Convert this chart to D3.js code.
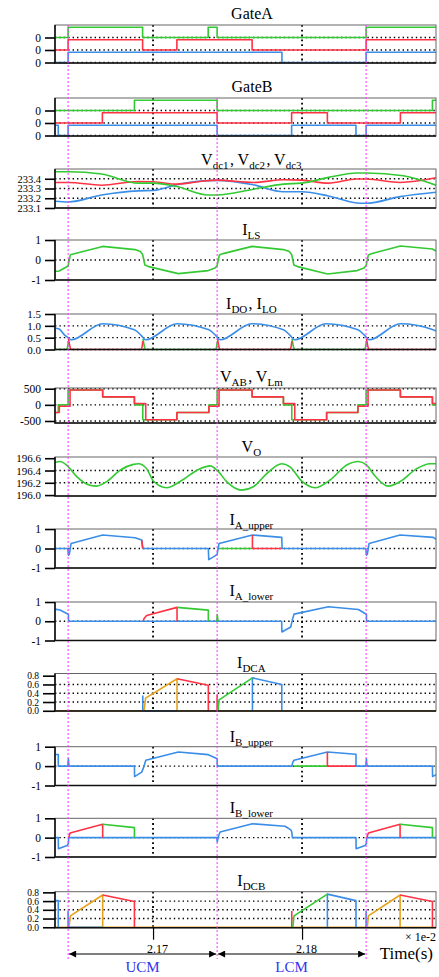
<!DOCTYPE html>
<html>
<head>
<meta charset="utf-8">
<script src="https://cdn.jsdelivr.net/npm/d3@7"></script>
<style>
    body { margin: 0; background: #ffffff; }
    svg { display: block; font-family: "Liberation Serif", "Times New Roman", serif; }
</style>
</head>
<body>
<div id="chart"></div>
<script>
// time in microseconds (2.17e-2 s = 21700 us)
const T0 = 21634.2;
const T1 = 21889.9;
const xTicks = [21700, 21800];
const modeMarks = [21643, 21743, 21843];
const modeLabels = ['UCM', 'LCM'];
const gateHigh = 0.82;

// Gate signals: [time, level] step-after
const gateA_green = [[21634.2, 0], [21643, 1], [21693, 0], [21737, 1], [21743, 0], [21843, 1]];
const gateA_red = [[21634.2, 0], [21643, 1], [21693, 0], [21716, 1], [21766.5, 0], [21843, 1]];
const gateA_blue = [[21634.2, 0], [21643, 1], [21786.5, 0], [21843, 1]];
const gateB_green = [[21634.2, 0], [21687.5, 1], [21743, 0], [21887.5, 1]];
const gateB_red = [[21634.2, 0], [21666, 1], [21743, 0], [21793, 1], [21817, 0], [21866, 1]];
const gateB_blue = [[21634.2, 1], [21636.4, 0], [21643, 1], [21743, 0], [21793, 1], [21836.2, 0], [21843, 1]];

// DC capacitor voltages
const vdc1 = [[21634.2, 233.472], [21643.2, 233.472], [21665.5, 233.448], [21690.2, 233.355], [21700.2, 233.355], [21715.9, 233.32], [21737.1, 233.234], [21743, 233.234], [21767.3, 233.293], [21787.5, 233.345], [21799.8, 233.355], [21817.7, 233.414], [21836.7, 233.459], [21843.2, 233.459], [21868, 233.431], [21889.9, 233.334]];
const vdc2 = [[21634.2, 233.362], [21643.2, 233.362], [21665.5, 233.334], [21690.2, 233.372], [21700.2, 233.369], [21715.9, 233.345], [21731.5, 233.372], [21743, 233.386], [21767.3, 233.362], [21787.5, 233.39], [21799.8, 233.386], [21817.7, 233.355], [21836.7, 233.397], [21843.2, 233.397], [21865.8, 233.362], [21889.9, 233.41]];
const vdc3 = [[21634.2, 233.169], [21643.2, 233.162], [21665.5, 233.234], [21690.2, 233.276], [21700.2, 233.28], [21715.9, 233.338], [21731.5, 233.376], [21743, 233.383], [21767.3, 233.338], [21787.5, 233.266], [21799.8, 233.266], [21817.7, 233.224], [21836.7, 233.152], [21843.2, 233.148], [21865.8, 233.217], [21889.9, 233.262]];

// I_LS
const ils = [[21634.2, -0.57], [21637, -0.55], [21641.5, -0.36], [21643, -0.3], [21644.5, 0.26], [21666.2, 0.68], [21687.9, 0.52], [21691.5, 0.42], [21693, 0.28], [21694.5, -0.25], [21697, -0.33], [21717, -0.68], [21737.1, -0.53], [21741.6, -0.4], [21743, -0.28], [21744.5, 0.25], [21747, 0.32], [21766.5, 0.68], [21787.5, 0.52], [21791.5, 0.42], [21793, 0.28], [21794.5, -0.25], [21797, -0.33], [21817.2, -0.7], [21837, -0.53], [21841.6, -0.4], [21843, -0.28], [21844.5, 0.25], [21847, 0.32], [21866, 0.7], [21887.5, 0.55], [21889.9, 0.45]];

// I_DO, I_LO
const ilo = [[21634.2, 0.9], [21637, 0.87], [21640.5, 0.62], [21643, 0.5], [21645, 0.41], [21666.2, 1.09], [21687.5, 0.83], [21692, 0.6], [21695, 0.41], [21716, 1.09], [21737.5, 0.83], [21742, 0.6], [21745, 0.41], [21766.2, 1.09], [21787.5, 0.83], [21792, 0.6], [21795, 0.41], [21816, 1.09], [21837.5, 0.83], [21842, 0.6], [21845, 0.41], [21866, 1.09], [21887.5, 0.85], [21889.9, 0.78]];
const ido_red = [[21643.3, 0.45], [21644.3, 0.1], [21645, 0], [21692, 0], [21692.6, 0.1], [21693.2, 0.35], null,
    [21743.3, 0.45], [21744.3, 0.1], [21745, 0], [21792, 0], [21792.6, 0.1], [21793.2, 0.35], null,
    [21843.3, 0.45], [21844.3, 0.1], [21845, 0], [21889.9, 0]];
const ido_green = [[21634.2, 0], [21642, 0], [21642.6, 0.1], [21643.2, 0.35], null,
    [21693.3, 0.45], [21694.3, 0.1], [21695, 0], [21742, 0], [21742.6, 0.1], [21743.2, 0.35], null,
    [21793.3, 0.45], [21794.3, 0.1], [21795, 0], [21842, 0], [21842.6, 0.1], [21843.2, 0.35]];

// V_AB (green), V_Lm (red): step-after
const vab = [[21634.2, -237], [21636.4, 0], [21643, 460], [21666.2, 247], [21687.5, 0], [21693.1, -460], [21716, -237], [21737.5, 0], [21743, 460], [21766.5, 247], [21787.5, 0], [21793.1, -460], [21816.5, -237], [21837.5, 0], [21843, 460], [21866, 247], [21887.5, 0]];
const vlm = [[21634.2, -237], [21637.1, -41], [21644.3, 460], [21666.2, 247], [21687.5, 41], [21695.1, -460], [21716, -237], [21737.5, -41], [21744.3, 460], [21766.5, 247], [21787.5, 41], [21795.1, -460], [21816.5, -237], [21837.5, -41], [21844.3, 460], [21866, 247], [21887.5, 41]];

// V_O
const vo = [[21634.2, 196.53], [21637.6, 196.546], [21643.2, 196.46], [21648.8, 196.3], [21657.7, 196.16], [21662.2, 196.146], [21668.9, 196.22], [21677.9, 196.405], [21686.8, 196.5], [21690.2, 196.51], [21695.7, 196.43], [21700.2, 196.23], [21709.2, 196.12], [21718.1, 196.22], [21731.5, 196.43], [21738.3, 196.475], [21743, 196.405], [21749.4, 196.22], [21759.5, 196.08], [21767.3, 196.135], [21776.3, 196.35], [21786.4, 196.51], [21791.9, 196.46], [21799.8, 196.227], [21808.7, 196.12], [21818.8, 196.245], [21830, 196.49], [21837.8, 196.546], [21843.2, 196.49], [21849, 196.31], [21857.9, 196.146], [21865.8, 196.22], [21877, 196.43], [21885.9, 196.51], [21889.9, 196.51]];

// I_A_upper
const iau_blue = [[21634.2, 0], [21642.8, 0], [21643.2, -0.34], [21643.8, -0.3], [21645, 0.26], [21666.2, 0.69], [21687.9, 0.55], [21692.4, 0.43], [21693.1, 0], [21737.1, 0], [21737.4, -0.57], [21741.6, -0.38], [21743, -0.3], [21744.3, 0.26], [21766.7, 0.69], [21786.4, 0.57], [21786.6, 0], [21842.8, 0], [21843.2, -0.34], [21843.8, -0.3], [21845, 0.26], [21865.8, 0.69], [21888.1, 0.57], [21889.9, 0.47]];
const iau_green = [[21744.3, 0], [21766.7, 0]];
const iau_red = [[21692.4, 0.43], [21693.1, 0], null, [21766.7, 0.69], [21766.7, 0], [21786.4, 0]];

// I_A_lower
const ial_blue = [[21634.2, 0.63], [21637.6, 0.58], [21642.1, 0.4], [21643.2, 0.35], [21643.3, 0], [21786.3, 0], [21786.5, -0.56], [21792.4, -0.3], [21793.6, 0.1], [21794.6, 0.37], [21817.7, 0.75], [21837.8, 0.61], [21842.3, 0.4], [21843.2, 0.35], [21843.3, 0], [21889.9, 0]];
const ial_red = [[21693.3, 0], [21694, 0.14], [21695.7, 0.3], [21716.1, 0.72], [21716.1, 0]];
const ial_green = [[21716.1, 0.72], [21737.1, 0.58], [21737.1, 0], null, [21742.8, 0], [21743.1, 0.35], [21743.6, 0]];

// I_DCA
const idca_orange = [[21634.2, 0], [21889.9, 0], null, [21694, 0], [21695, 0.29], [21716.1, 0.73], [21716.1, 0]];
const idca_blue = [[21693.1, 0], [21693.1, 0.35], null, [21694, 0], [21716, 0], null, [21766.7, 0], [21766.7, 0.75], [21786.4, 0.6], [21786.4, 0]];
const idca_red = [[21716.1, 0.73], [21737.1, 0.58], [21737.1, 0], null, [21743, 0], [21743, 0.37]];
const idca_green = [[21743.6, 0], [21744.3, 0.25], [21766.7, 0.75]];

// I_B_upper
const ibu_blue = [[21634.2, 0.6], [21636.4, 0.6], [21636.4, 0], [21642.8, 0], [21643.2, 0.38], [21643.6, 0], [21687.5, 0], [21687.6, -0.54], [21692.4, -0.31], [21694, 0], [21695.1, 0.3], [21717, 0.73], [21737.1, 0.59], [21741.6, 0.43], [21743, 0.38], [21743.1, 0], [21793.1, 0], [21793.8, 0.2], [21794.6, 0.3], [21817, 0.73], [21836.2, 0.61], [21836.2, 0], [21842.8, 0], [21843.2, 0.38], [21843.6, 0], [21887.5, 0], [21887.6, -0.54], [21889.9, -0.44]];
const ibu_green = [[21794.6, 0], [21817, 0]];
const ibu_red = [[21817, 0.73], [21817, 0], [21836.2, 0]];

// I_B_lower
const ibl_blue = [[21634.2, 0], [21636.4, 0], [21636.5, -0.57], [21642.3, -0.4], [21643.2, -0.3], [21643.4, 0], [21742.8, 0], [21743.1, -0.22], [21744, 0.1], [21745, 0.29], [21766.7, 0.72], [21788.6, 0.59], [21792.5, 0.4], [21793.1, 0.29], [21793.5, 0], [21836.2, 0], [21836.3, -0.57], [21842.3, -0.4], [21843.2, -0.3], [21843.4, 0], [21889.9, 0]];
const ibl_red = [[21643.4, 0], [21644.3, 0.24], [21666.2, 0.69], [21666.2, 0], null, [21843.4, 0], [21844.5, 0.24], [21865.8, 0.69], [21865.8, 0]];
const ibl_green = [[21666.2, 0.69], [21687.5, 0.52], [21687.5, 0], null, [21865.8, 0.69], [21887.5, 0.52], [21887.5, 0]];

// I_DCB
const idcb_orange = [[21634.2, 0], [21889.9, 0], null, [21643.6, 0], [21644.5, 0.26], [21666.2, 0.74], [21666.2, 0], null, [21843.8, 0], [21844.5, 0.26], [21865.8, 0.74], [21865.8, 0]];
const idcb_blue = [[21634.2, 0.61], [21636.4, 0.61], [21636.4, 0], null, [21643, 0], [21643, 0.37], null, [21643.5, 0], [21666.2, 0], null, [21817, 0], [21817, 0.76], [21836.2, 0.61], [21836.2, 0], null, [21843, 0], [21843, 0.37]];
const idcb_red = [[21666.2, 0.74], [21687.5, 0.59], [21687.5, 0], null, [21793.1, 0], [21793.1, 0.37], null, [21865.8, 0.74], [21887.5, 0.59], [21887.5, 0]];
const idcb_green = [[21793.8, 0], [21794.6, 0.26], [21817, 0.76]];

const C = { green: '#33c933', red: '#ff3344', blue: '#3a8ee8', orange: '#e6a21a' };

function gateRow(data, row) {
    return data.map((d) => [d[0], d[1] * gateHigh + row]);
}

const f1 = d3.format('.1f');
const fInt = (d) => String(d);

const panels = [
    { title: [['GateA', '']], titleY: 19, top: 25, bottom: 63, domain: [-0.04, 3], ticks: [0, 1, 2], fmt: () => '0', grid: [0, 1, 2], curve: d3.curveStepAfter, fs: 11.5,
      series: [[gateRow(gateA_blue, 0), C.blue], [gateRow(gateA_red, 1), C.red], [gateRow(gateA_green, 2), C.green]] },
    { title: [['GateB', '']], titleY: 92, top: 98, bottom: 136, domain: [-0.04, 3], ticks: [0, 1, 2], fmt: () => '0', grid: [0, 1, 2], curve: d3.curveStepAfter, fs: 11.5,
      series: [[gateRow(gateB_blue, 0), C.blue], [gateRow(gateB_red, 1), C.red], [gateRow(gateB_green, 2), C.green]] },
    { title: [['V', 'dc1'], [', V', 'dc2'], [', V', 'dc3']], titleY: 165, top: 169, bottom: 208, domain: [233.1, 233.5], ticks: [233.1, 233.2, 233.3, 233.4], fmt: f1, grid: [233.2, 233.3, 233.4], curve: d3.curveMonotoneX, fs: 10.5,
      series: [[vdc3, C.blue], [vdc2, C.red], [vdc1, C.green]] },
    { title: [['I', 'LS']], titleY: 235, top: 240, bottom: 280, domain: [-1, 1], ticks: [-1, 0, 1], fmt: fInt, grid: [0], curve: d3.curveLinear, fs: 11.5,
      series: [[ils, C.green]] },
    { title: [['I', 'DO'], [', I', 'LO']], titleY: 309, top: 314, bottom: 349.5, domain: [0, 1.5], ticks: [0, 0.5, 1, 1.5], fmt: f1, grid: [0, 0.5, 1], curve: d3.curveMonotoneX, fs: 11,
      series: [[ido_green, C.green], [ido_red, C.red], [ilo, C.blue]] },
    { title: [['V', 'AB'], [', V', 'Lm']], titleY: 382, top: 388, bottom: 423, domain: [-562, 522], ticks: [-500, 0, 500], fmt: fInt, grid: [-500, 0, 500], curve: d3.curveStepAfter, fs: 11.5,
      series: [[vab, C.green], [vlm, C.red]] },
    { title: [['V', 'O']], titleY: 452, top: 457, bottom: 496, domain: [195.985, 196.62], ticks: [196.0, 196.2, 196.4, 196.6], fmt: f1, grid: [196.2, 196.4], curve: d3.curveMonotoneX, fs: 11,
      series: [[vo, C.green]] },
    { title: [['I', 'A_upper']], titleY: 525, top: 529, bottom: 568, domain: [-1, 1], ticks: [-1, 0, 1], fmt: fInt, grid: [0], curve: d3.curveLinear, fs: 11.5,
      series: [[iau_blue, C.blue], [iau_green, C.green], [iau_red, C.red]] },
    { title: [['I', 'A_lower']], titleY: 596, top: 602, bottom: 640.5, domain: [-1, 1], ticks: [-1, 0, 1], fmt: fInt, grid: [0], curve: d3.curveLinear, fs: 11.5,
      series: [[ial_blue, C.blue], [ial_red, C.red], [ial_green, C.green]] },
    { title: [['I', 'DCA']], titleY: 668, top: 673.5, bottom: 711, domain: [-0.005, 0.85], ticks: [0, 0.2, 0.4, 0.6, 0.8], fmt: f1, grid: [0.2, 0.4, 0.6], curve: d3.curveLinear, fs: 9.5,
      series: [[idca_orange, C.orange], [idca_blue, C.blue], [idca_red, C.red], [idca_green, C.green]] },
    { title: [['I', 'B_upper']], titleY: 742, top: 746.7, bottom: 785.5, domain: [-1, 1], ticks: [-1, 0, 1], fmt: fInt, grid: [0], curve: d3.curveLinear, fs: 11.5,
      series: [[ibu_blue, C.blue], [ibu_green, C.green], [ibu_red, C.red]] },
    { title: [['I', 'B_lower']], titleY: 813, top: 818.3, bottom: 857, domain: [-1, 1], ticks: [-1, 0, 1], fmt: fInt, grid: [0], curve: d3.curveLinear, fs: 11.5,
      series: [[ibl_blue, C.blue], [ibl_red, C.red], [ibl_green, C.green]] },
    { title: [['I', 'DCB']], titleY: 886, top: 891.7, bottom: 927.7, domain: [-0.01, 0.815], ticks: [0, 0.2, 0.4, 0.6, 0.8], fmt: f1, grid: [0.2, 0.4, 0.6], curve: d3.curveLinear, fs: 9.5,
      series: [[idcb_orange, C.orange], [idcb_blue, C.blue], [idcb_red, C.red], [idcb_green, C.green]] }
];

const width = 439;
const height = 977;
const left = 55;
const right = 436;

const svg = d3.select('#chart').append('svg')
    .attr('width', width)
    .attr('height', height)
    .attr('viewBox', `0 0 ${width} ${height}`);

const x = d3.scaleLinear().domain([T0, T1]).range([left, right]);

const defs = svg.append('defs');
defs.append('marker')
    .attr('id', 'arrow')
    .attr('viewBox', '0 0 10 10')
    .attr('refX', 10)
    .attr('refY', 5)
    .attr('markerWidth', 11)
    .attr('markerHeight', 7)
    .attr('markerUnits', 'userSpaceOnUse')
    .attr('orient', 'auto-start-reverse')
    .append('path')
    .attr('d', 'M0,0L10,5L0,10z')
    .attr('fill', '#000');

panels.forEach((p, i) => {
    const y = d3.scaleLinear().domain(p.domain).range([p.bottom, p.top]);
    const g = svg.append('g').attr('class', 'panel');

    defs.append('clipPath').attr('id', `clip${i}`)
        .append('rect')
        .attr('x', left).attr('y', p.top - 1)
        .attr('width', right - left).attr('height', p.bottom - p.top + 2);

    // horizontal dotted grid
    g.selectAll('line.hgrid')
        .data(p.grid)
        .join('line')
        .attr('class', 'hgrid')
        .attr('x1', left).attr('x2', right)
        .attr('y1', (d) => y(d)).attr('y2', (d) => y(d))
        .attr('stroke', '#000')
        .attr('stroke-width', 1.4)
        .attr('stroke-dasharray', '1.4 3');

    // vertical dotted grid
    g.selectAll('line.vgrid')
        .data(xTicks)
        .join('line')
        .attr('class', 'vgrid')
        .attr('x1', (d) => x(d)).attr('x2', (d) => x(d))
        .attr('y1', p.top).attr('y2', p.bottom)
        .attr('stroke', '#000')
        .attr('stroke-width', 1.8)
        .attr('stroke-dasharray', '1.8 3');

    // waveforms
    const series = p.series.map(([data, color]) => {
        let pts = data;
        if (p.curve === d3.curveStepAfter) {
            pts = data.concat([[T1, data[data.length - 1][1]]]);
        }
        return { pts, color };
    });
    const line = d3.line()
        .defined((d) => d !== null)
        .x((d) => x(d[0]))
        .y((d) => y(d[1]))
        .curve(p.curve);

    g.append('g')
        .attr('clip-path', `url(#clip${i})`)
        .selectAll('path')
        .data(series)
        .join('path')
        .attr('d', (d) => line(d.pts))
        .attr('fill', 'none')
        .attr('stroke', (d) => d.color)
        .attr('stroke-width', 1.6)
        .attr('stroke-linejoin', 'round');

    // frame
    g.append('rect')
        .attr('x', left).attr('y', p.top)
        .attr('width', right - left).attr('height', p.bottom - p.top)
        .attr('fill', 'none')
        .attr('stroke', '#666')
        .attr('stroke-width', 1);
    g.append('path')
        .attr('d', `M${left},${p.top}V${p.bottom}H${right}`)
        .attr('fill', 'none')
        .attr('stroke', '#111')
        .attr('stroke-width', 1.6);

    // y axis
    const dense = p.ticks.length > 4;
    const ax = g.append('g')
        .attr('transform', `translate(${left},0)`)
        .call(d3.axisLeft(y).tickValues(p.ticks).tickSize(dense ? 12 : 10).tickPadding(4).tickFormat(p.fmt));
    ax.select('.domain').remove();
    ax.selectAll('line').attr('stroke', '#000').attr('stroke-width', 1.6);
    ax.selectAll('text')
        .attr('fill', '#000')
        .style('font-family', '"Liberation Serif", "Times New Roman", serif')
        .style('font-size', `${p.fs}px`);

    // title with subscripts
    const title = g.append('text')
        .attr('x', 252)
        .attr('y', p.titleY)
        .attr('text-anchor', 'middle')
        .attr('fill', '#000')
        .style('font-size', '16px');
    p.title.forEach(([main, sub]) => {
        title.append('tspan').text(main);
        if (sub) {
            title.append('tspan').attr('dy', 4).style('font-size', '11px').text(sub);
            title.append('tspan').attr('dy', -4).style('font-size', '16px').text('\u200a');
        }
    });
});

// bottom time axis
const lastP = panels[panels.length - 1];
const xAxis = svg.append('g')
    .attr('transform', `translate(0,${lastP.bottom})`)
    .call(d3.axisBottom(x).tickValues(xTicks).tickSize(12).tickPadding(5)
        .tickFormat((d) => (d / 10000).toFixed(2)));
xAxis.select('.domain').remove();
xAxis.selectAll('line').attr('stroke', '#000').attr('stroke-width', 1.2);
xAxis.selectAll('text')
    .attr('fill', '#000')
    .attr('dx', 4)
    .style('font-family', '"Liberation Serif", "Times New Roman", serif')
    .style('font-size', '12px');

svg.append('text')
    .attr('x', 436).attr('y', 941)
    .attr('text-anchor', 'end')
    .style('font-size', '12px')
    .text('\u00d7 1e-2');
svg.append('text')
    .attr('x', 433).attr('y', 959)
    .attr('text-anchor', 'end')
    .style('font-size', '17px')
    .text('Time(s)');

// mode marker lines (magenta dotted)
svg.selectAll('line.mode')
    .data(modeMarks)
    .join('line')
    .attr('class', 'mode')
    .attr('x1', (d) => x(d)).attr('x2', (d) => x(d))
    .attr('y1', (d, i) => (i === 1 ? panels[1].top : panels[0].top))
    .attr('y2', 959)
    .attr('stroke', '#ff33ff')
    .attr('stroke-width', 1)
    .attr('stroke-dasharray', '2 2');

// mode arrows and labels
modeLabels.forEach((label, i) => {
    const a = x(modeMarks[i]);
    const b = x(modeMarks[i + 1]);
    svg.append('line')
        .attr('x1', a + 1).attr('x2', b - 1)
        .attr('y1', 954).attr('y2', 954)
        .attr('stroke', '#000')
        .attr('stroke-width', 1.2)
        .attr('marker-start', 'url(#arrow)')
        .attr('marker-end', 'url(#arrow)');
    svg.append('text')
        .attr('x', (a + b) / 2)
        .attr('y', 972)
        .attr('text-anchor', 'middle')
        .attr('fill', '#3333ee')
        .style('font-size', '15px')
        .text(label);
});
</script>
</body>
</html>
